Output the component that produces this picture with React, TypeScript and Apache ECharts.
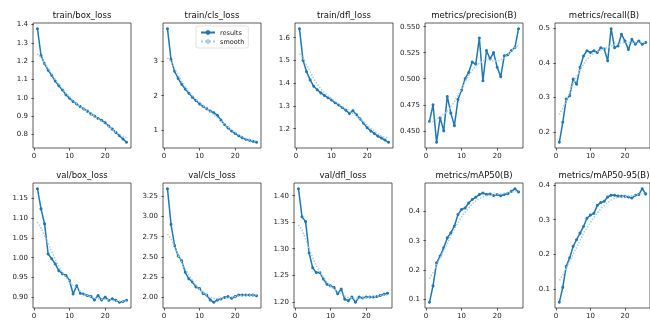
import React, { useEffect, useRef } from "react";
import * as echarts from "echarts";

// ---------- data ----------
const epochs = [1, 2, 3, 4, 5, 6, 7, 8, 9, 10, 11, 12, 13, 14, 15, 16, 17, 18, 19, 20, 21, 22, 23, 24, 25, 26];
const xTicks = [0, 10, 20];

const trainBoxLoss = [1.377, 1.23, 1.186, 1.15, 1.123, 1.091, 1.066, 1.043, 1.016, 0.998, 0.98, 0.966, 0.952, 0.939, 0.927, 0.912, 0.9, 0.887, 0.877, 0.864, 0.846, 0.829, 0.811, 0.793, 0.775, 0.757];
const trainBoxLossSmooth = [1.24, 1.22, 1.19, 1.16, 1.13, 1.1, 1.075, 1.05, 1.025, 1.005, 0.985, 0.968, 0.953, 0.939, 0.925, 0.912, 0.899, 0.886, 0.872, 0.858, 0.843, 0.828, 0.813, 0.8, 0.79, 0.784];
const trainBoxTicks = ["0.8", "0.9", "1.0", "1.1", "1.2", "1.3", "1.4"];

const trainClsLoss = [3.95, 3.05, 2.71, 2.5, 2.33, 2.19, 2.07, 1.95, 1.86, 1.76, 1.69, 1.62, 1.55, 1.5, 1.43, 1.29, 1.16, 1.06, 0.97, 0.9, 0.83, 0.77, 0.73, 0.7, 0.67, 0.64];
const trainClsLossSmooth = [3.1, 3.0, 2.8, 2.6, 2.42, 2.26, 2.12, 2.0, 1.89, 1.8, 1.71, 1.62, 1.53, 1.44, 1.35, 1.26, 1.17, 1.08, 1.0, 0.93, 0.86, 0.8, 0.75, 0.71, 0.69, 0.68];
const trainClsTicks = ["1", "2", "3"];

const trainDflLoss = [1.639, 1.5, 1.45, 1.414, 1.386, 1.371, 1.357, 1.346, 1.336, 1.326, 1.314, 1.304, 1.293, 1.281, 1.267, 1.279, 1.261, 1.243, 1.224, 1.204, 1.19, 1.179, 1.167, 1.159, 1.15, 1.14];
const trainDflLossSmooth = [1.53, 1.51, 1.48, 1.45, 1.42, 1.395, 1.375, 1.358, 1.344, 1.332, 1.32, 1.308, 1.297, 1.287, 1.277, 1.267, 1.256, 1.243, 1.23, 1.216, 1.202, 1.189, 1.177, 1.168, 1.162, 1.159];
const trainDflTicks = ["1.2", "1.3", "1.4", "1.5", "1.6"];

const precision = [0.459, 0.475, 0.439, 0.4625, 0.45, 0.483, 0.467, 0.455, 0.48, 0.489, 0.5, 0.506, 0.516, 0.514, 0.539, 0.498, 0.527, 0.519, 0.525, 0.511, 0.502, 0.522, 0.523, 0.527, 0.53, 0.548];
const precisionSmooth = [0.458, 0.459, 0.461, 0.463, 0.466, 0.469, 0.473, 0.478, 0.484, 0.49, 0.497, 0.503, 0.508, 0.512, 0.515, 0.517, 0.518, 0.518, 0.517, 0.517, 0.518, 0.52, 0.523, 0.527, 0.53, 0.532];
const precisionTicks = ["0.450", "0.475", "0.500", "0.525", "0.550"];

const recall = [0.17, 0.228, 0.295, 0.305, 0.353, 0.338, 0.387, 0.42, 0.435, 0.43, 0.435, 0.43, 0.444, 0.44, 0.406, 0.499, 0.444, 0.449, 0.483, 0.463, 0.439, 0.468, 0.454, 0.463, 0.454, 0.459];
const recallSmooth = [0.25, 0.27, 0.29, 0.315, 0.34, 0.36, 0.38, 0.396, 0.41, 0.42, 0.428, 0.433, 0.437, 0.441, 0.445, 0.449, 0.453, 0.456, 0.458, 0.459, 0.459, 0.459, 0.459, 0.459, 0.459, 0.459];
const recallTicks = ["0.2", "0.3", "0.4", "0.5"];

const valBoxLoss = [1.174, 1.123, 1.085, 1.009, 0.997, 0.984, 0.967, 0.959, 0.955, 0.942, 0.908, 0.929, 0.91, 0.908, 0.904, 0.902, 0.893, 0.904, 0.893, 0.9, 0.892, 0.896, 0.892, 0.887, 0.889, 0.892];
const valBoxLossSmooth = [1.09, 1.075, 1.055, 1.035, 1.015, 0.995, 0.978, 0.963, 0.95, 0.94, 0.93, 0.922, 0.915, 0.909, 0.905, 0.901, 0.898, 0.896, 0.895, 0.894, 0.893, 0.892, 0.891, 0.89, 0.89, 0.89];
const valBoxTicks = ["0.90", "0.95", "1.00", "1.05", "1.10", "1.15"];

const valClsLoss = [3.34, 2.9, 2.64, 2.51, 2.45, 2.31, 2.23, 2.19, 2.13, 2.11, 2.05, 2.03, 1.97, 1.94, 1.97, 1.98, 2.0, 2.01, 1.99, 2.01, 2.03, 2.03, 2.03, 2.03, 2.03, 2.02];
const valClsLossSmooth = [2.78, 2.72, 2.62, 2.52, 2.43, 2.35, 2.28, 2.21, 2.15, 2.1, 2.06, 2.03, 2.005, 1.99, 1.985, 1.985, 1.99, 2.0, 2.005, 2.01, 2.02, 2.025, 2.03, 2.03, 2.03, 2.03];
const valClsTicks = ["2.00", "2.25", "2.50", "2.75", "3.00", "3.25"];

const valDflLoss = [1.413, 1.36, 1.351, 1.292, 1.264, 1.255, 1.255, 1.243, 1.233, 1.23, 1.227, 1.215, 1.224, 1.205, 1.202, 1.209, 1.199, 1.209, 1.207, 1.209, 1.209, 1.209, 1.21, 1.212, 1.214, 1.216];
const valDflLossSmooth = [1.345, 1.335, 1.318, 1.3, 1.283, 1.268, 1.256, 1.246, 1.237, 1.23, 1.224, 1.219, 1.214, 1.211, 1.208, 1.207, 1.206, 1.206, 1.207, 1.208, 1.209, 1.21, 1.211, 1.212, 1.213, 1.213];
const valDflTicks = ["1.20", "1.25", "1.30", "1.35", "1.40"];

const map50 = [0.089, 0.145, 0.224, 0.247, 0.275, 0.309, 0.326, 0.349, 0.389, 0.406, 0.411, 0.428, 0.44, 0.448, 0.457, 0.462, 0.457, 0.459, 0.454, 0.457, 0.453, 0.457, 0.46, 0.468, 0.477, 0.466];
const map50Smooth = [0.17, 0.19, 0.215, 0.24, 0.265, 0.29, 0.315, 0.34, 0.36, 0.38, 0.397, 0.41, 0.425, 0.435, 0.443, 0.449, 0.453, 0.455, 0.457, 0.458, 0.459, 0.461, 0.463, 0.465, 0.467, 0.468];
const map50Ticks = ["0.1", "0.2", "0.3", "0.4"];

const map5095 = [0.062, 0.105, 0.166, 0.19, 0.223, 0.242, 0.261, 0.28, 0.304, 0.313, 0.318, 0.341, 0.349, 0.353, 0.365, 0.37, 0.37, 0.368, 0.367, 0.367, 0.365, 0.362, 0.37, 0.372, 0.389, 0.374];
const map5095Smooth = [0.125, 0.14, 0.16, 0.18, 0.2, 0.22, 0.24, 0.26, 0.277, 0.292, 0.306, 0.319, 0.331, 0.341, 0.349, 0.356, 0.361, 0.364, 0.366, 0.367, 0.368, 0.369, 0.371, 0.373, 0.375, 0.376];
const map5095Ticks = ["0.1", "0.2", "0.3", "0.4"];

const titles = [
  "train/box_loss", "train/cls_loss", "train/dfl_loss", "metrics/precision(B)", "metrics/recall(B)",
  "val/box_loss", "val/cls_loss", "val/dfl_loss", "metrics/mAP50(B)", "metrics/mAP50-95(B)",
];
const resultsSeries = [trainBoxLoss, trainClsLoss, trainDflLoss, precision, recall, valBoxLoss, valClsLoss, valDflLoss, map50, map5095];
const smoothSeries = [trainBoxLossSmooth, trainClsLossSmooth, trainDflLossSmooth, precisionSmooth, recallSmooth, valBoxLossSmooth, valClsLossSmooth, valDflLossSmooth, map50Smooth, map5095Smooth];
const yTickLabels = [trainBoxTicks, trainClsTicks, trainDflTicks, precisionTicks, recallTicks, valBoxTicks, valClsTicks, valDflTicks, map50Ticks, map5095Ticks];

// ---------- layout ----------
const FONT = "DejaVu Sans";
const lefts = [[33, 163, 295, 425, 555], [33, 163, 294, 425, 555]];
const tops = [23, 183];
const plotW = 98;
const plotH = 125;
const BLUE = "#1f77b4";
const SMOOTH = "#a9cde6";

export default function App() {
  const ref = useRef<HTMLDivElement>(null);
  useEffect(() => {
    if (!ref.current) return;
    const chart = echarts.init(ref.current, null, { renderer: "svg" });

    const xMinData = epochs[0];
    const xMaxData = epochs[epochs.length - 1];
    const xPad = (xMaxData - xMinData) * 0.05;

    const grids: any[] = [];
    const xAxes: any[] = [];
    const yAxes: any[] = [];
    const series: any[] = [];
    const graphics: any[] = [];

    titles.forEach((title, i) => {
      const row = Math.floor(i / 5);
      const col = i % 5;
      const left = lefts[row][col];
      const top = tops[row];
      grids.push({
        left, top, width: plotW, height: plotH,
        show: true, borderColor: "#333", borderWidth: 0.8, backgroundColor: "transparent",
      });
      const all = resultsSeries[i].concat(smoothSeries[i]);
      const lo = Math.min(...all);
      const hi = Math.max(...all);
      const pad = (hi - lo) * 0.05;
      const ticks = yTickLabels[i];
      const tickVals = ticks.map((t) => Number(t));
      xAxes.push({
        type: "value", gridIndex: i, min: xMinData - xPad, max: xMaxData + xPad,
        axisLine: { show: false },
        splitLine: { show: false },
        axisTick: { show: true, customValues: xTicks, length: 2.5, lineStyle: { color: "#333", width: 0.8 } },
        axisLabel: { customValues: xTicks, fontSize: 7, color: "#222", fontFamily: FONT, margin: 4 },
      });
      yAxes.push({
        type: "value", gridIndex: i, min: lo - pad, max: hi + pad,
        axisLine: { show: false },
        splitLine: { show: false },
        axisTick: { show: true, customValues: tickVals, length: 2.5, lineStyle: { color: "#333", width: 0.8 } },
        axisLabel: {
          customValues: tickVals, fontSize: 7, color: "#222", fontFamily: FONT, margin: 5,
          formatter: (v: number) => {
            const k = tickVals.findIndex((t) => Math.abs(t - v) < 1e-9);
            return k >= 0 ? ticks[k] : "";
          },
        },
      });
      series.push({
        name: "results", type: "line", xAxisIndex: i, yAxisIndex: i,
        data: epochs.map((e, k) => [e, resultsSeries[i][k]]),
        symbol: "circle", symbolSize: 3, showSymbol: true,
        lineStyle: { color: BLUE, width: 1.5 }, itemStyle: { color: BLUE },
        z: 2,
      });
      series.push({
        name: "smooth", type: "line", xAxisIndex: i, yAxisIndex: i,
        data: epochs.map((e, k) => [e, smoothSeries[i][k]]),
        symbol: "none",
        lineStyle: { color: SMOOTH, width: 1.5, type: "dotted" }, itemStyle: { color: SMOOTH },
        z: 3,
      });
      graphics.push({
        type: "text",
        x: left + plotW / 2,
        y: top - 8,
        style: { text: title, align: "center", verticalAlign: "middle", fontSize: 8.5, fontFamily: FONT, fill: "#111" },
      });
    });

    chart.setOption({
      animation: false,
      textStyle: { fontFamily: FONT },
      grid: grids,
      xAxis: xAxes,
      yAxis: yAxes,
      series,
      graphic: graphics,
      legend: {
        data: ["results", "smooth"],
        orient: "vertical",
        left: 196,
        top: 26,
        itemWidth: 14,
        itemHeight: 6,
        itemGap: 2,
        padding: [3, 4],
        borderColor: "#d0d0d0",
        borderWidth: 0.6,
        borderRadius: 2,
        backgroundColor: "rgba(255,255,255,0.8)",
        textStyle: { fontSize: 6.5, color: "#222", fontFamily: FONT },
      },
    });
    return () => chart.dispose();
  }, []);
  return <div ref={ref} style={{ position: "fixed", left: 0, top: 0, width: 650, height: 324 }} />;
}
